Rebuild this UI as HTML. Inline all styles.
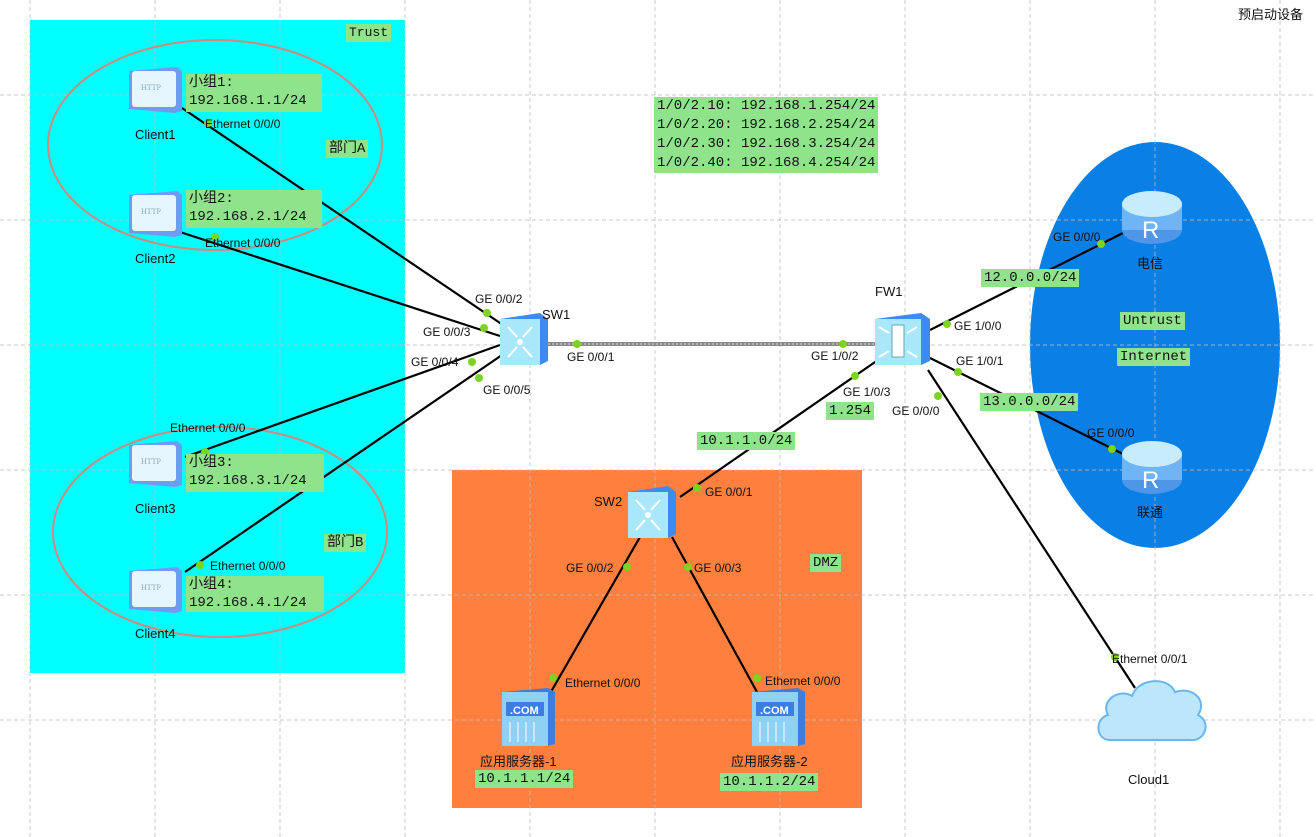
<!DOCTYPE html>
<html><head><meta charset="utf-8"><style>
body{margin:0;width:1316px;height:837px;overflow:hidden;background:#fff;position:relative;font-family:"Liberation Sans","Noto Sans CJK SC",sans-serif}
.a{position:absolute}
.g{position:absolute;background:#8fe38a;font-family:"Liberation Mono","Noto Sans CJK SC",monospace;font-size:14px;line-height:18px;padding:0 3px;color:#111}
.t{position:absolute;font-size:12px;color:#111;white-space:nowrap}
.n{position:absolute;font-size:13px;color:#111;white-space:nowrap}
</style></head><body>
<svg class="a" style="left:0;top:0" width="1316" height="837">
<rect x="30" y="20" width="375" height="653" fill="#00ffff"/>
<rect x="452" y="470" width="410" height="338" fill="#ff7f3f"/>
<ellipse cx="1155" cy="345" rx="125" ry="203" fill="#0a7fe6"/>
<g stroke="#bdbdbd" stroke-opacity="0.8" stroke-dasharray="4,3" stroke-width="1">
<line x1="30" y1="0" x2="30" y2="837"/><line x1="155" y1="0" x2="155" y2="837"/><line x1="280" y1="0" x2="280" y2="837"/><line x1="405" y1="0" x2="405" y2="837"/><line x1="530" y1="0" x2="530" y2="837"/><line x1="655" y1="0" x2="655" y2="837"/><line x1="780" y1="0" x2="780" y2="837"/><line x1="905" y1="0" x2="905" y2="837"/><line x1="1030" y1="0" x2="1030" y2="837"/><line x1="1155" y1="0" x2="1155" y2="837"/><line x1="1280" y1="0" x2="1280" y2="837"/>
<line x1="0" y1="95" x2="1316" y2="95"/><line x1="0" y1="220" x2="1316" y2="220"/><line x1="0" y1="345" x2="1316" y2="345"/><line x1="0" y1="470" x2="1316" y2="470"/><line x1="0" y1="595" x2="1316" y2="595"/><line x1="0" y1="720" x2="1316" y2="720"/>
</g>
<ellipse cx="215" cy="145" rx="167" ry="105" fill="none" stroke="#d08880" stroke-width="2"/>
<ellipse cx="220" cy="532" rx="167" ry="105" fill="none" stroke="#d08880" stroke-width="2"/>
<g stroke="#000" stroke-width="2.2">
<line x1="182" y1="108" x2="503" y2="325"/>
<line x1="180" y1="232" x2="500" y2="336"/>
<line x1="185" y1="457" x2="500" y2="345"/>
<line x1="185" y1="572" x2="502" y2="355"/>
<line x1="878" y1="360" x2="680" y2="497"/>
<line x1="930" y1="330" x2="1125" y2="232"/>
<line x1="930" y1="358" x2="1125" y2="455"/>
<line x1="928" y1="370" x2="1135" y2="688"/>
<line x1="640" y1="537" x2="548" y2="697"/>
<line x1="672" y1="537" x2="757" y2="692"/>
</g>
<line x1="548" y1="344" x2="876" y2="344" stroke="#888" stroke-width="4"/>
<line x1="548" y1="344" x2="876" y2="344" stroke="#ddd" stroke-width="1" stroke-dasharray="2,2"/>
<g fill="#7ed321">
<circle cx="208" cy="123" r="4"/><circle cx="215" cy="237" r="4"/><circle cx="205" cy="452" r="4"/><circle cx="200" cy="565" r="4"/>
<circle cx="487" cy="313" r="4"/><circle cx="484" cy="328" r="4"/><circle cx="472" cy="362" r="4"/><circle cx="479" cy="378" r="4"/>
<circle cx="577" cy="344" r="4"/><circle cx="843" cy="344" r="4"/><circle cx="855" cy="376" r="4"/><circle cx="947" cy="324" r="4"/><circle cx="958" cy="372" r="4"/><circle cx="938" cy="396" r="4"/>
<circle cx="1101" cy="244" r="4"/><circle cx="1112" cy="449" r="4"/><circle cx="697" cy="488" r="4"/><circle cx="627" cy="567" r="4"/><circle cx="688" cy="567" r="4"/><circle cx="553" cy="678" r="4"/><circle cx="757" cy="678" r="4"/><circle cx="1115" cy="657" r="4"/>
</g>
<defs>
<g id="pc"><path d="M2 4 L50 0 L55 4 L55 44 L48 46 L2 42 Z" fill="#6f9cf0"/><rect x="5" y="4" width="44" height="36" rx="3" fill="#e6f6ff"/><text x="14" y="23" font-size="8" fill="#8ab" font-family="Liberation Serif">HTTP</text></g>
<g id="sw"><path d="M0 6 L40 0 L48 6 L48 48 L40 52 L0 52 Z" fill="#3c8cf0"/><rect x="0" y="6" width="40" height="46" fill="#a9e7fb"/><g stroke="#fff" stroke-width="2"><line x1="8" y1="14" x2="17" y2="24"/><line x1="32" y1="14" x2="23" y2="24"/><line x1="8" y1="44" x2="17" y2="34"/><line x1="32" y1="44" x2="23" y2="34"/></g><circle cx="20" cy="29" r="3" fill="#fff"/></g>
<g id="rt"><ellipse cx="30" cy="40" rx="30" ry="14" fill="#4f95e8"/><rect x="0" y="14" width="60" height="26" fill="#6fb5f5"/><ellipse cx="30" cy="14" rx="30" ry="13" fill="#c7ecfd"/><text x="20" y="48" font-size="24" fill="#fff" font-family="Liberation Sans">R</text></g>
<g id="sv"><path d="M0 4 L46 0 L53 4 L53 56 L46 58 L0 58 Z" fill="#3b7ee0"/><rect x="0" y="4" width="46" height="54" fill="#8fd0f5"/><rect x="4" y="14" width="38" height="14" fill="#3b7ee0"/><text x="8" y="26" font-size="11" font-weight="bold" fill="#fff">.COM</text><g stroke="#fff"><line x1="8" y1="34" x2="8" y2="54"/><line x1="16" y1="34" x2="16" y2="54"/><line x1="24" y1="34" x2="24" y2="54"/><line x1="32" y1="34" x2="32" y2="54"/></g></g>
</defs>
<use href="#pc" x="127" y="67"/><use href="#pc" x="127" y="191"/><use href="#pc" x="127" y="441"/><use href="#pc" x="127" y="567"/>
<use href="#sw" x="500" y="313"/><use href="#sw" x="628" y="486"/>
<g transform="translate(875,313)"><path d="M0 6 L46 0 L55 6 L55 48 L46 52 L0 52 Z" fill="#3c8cf0"/><rect x="0" y="6" width="46" height="46" fill="#a9e7fb"/><rect x="17" y="12" width="12" height="32" fill="#fff" stroke="#6aa" stroke-width="1"/><g stroke="#fff" stroke-width="2"><line x1="4" y1="14" x2="14" y2="20"/><line x1="42" y1="14" x2="32" y2="20"/><line x1="4" y1="44" x2="14" y2="38"/><line x1="42" y1="44" x2="32" y2="38"/></g></g>
<use href="#rt" x="1122" y="190"/><use href="#rt" x="1122" y="440"/>
<use href="#sv" x="502" y="688"/><use href="#sv" x="752" y="688"/>
<path d="M1110 740 C1095 740 1095 718 1108 715 C1100 700 1120 688 1132 696 C1138 678 1168 676 1175 692 C1192 686 1208 700 1198 715 C1212 722 1205 742 1190 740 Z" fill="#bce6fc" stroke="#6ab6f0" stroke-width="2"/>
</svg>
<div class="t" style="left:1238px;top:4px;font-size:13px">预启动设备</div>
<div class="g" style="left:346px;top:24px;font-size:13px">Trust</div>
<div class="g" style="left:186px;top:74px;width:130px;height:38px">小组1:<br>192.168.1.1/24</div>
<div class="g" style="left:186px;top:190px;width:130px;height:38px">小组2:<br>192.168.2.1/24</div>
<div class="g" style="left:186px;top:454px;width:132px;height:38px">小组3:<br>192.168.3.1/24</div>
<div class="g" style="left:186px;top:576px;width:132px;height:36px">小组4:<br>192.168.4.1/24</div>
<div class="g" style="left:326px;top:140px">部门A</div>
<div class="g" style="left:324px;top:534px">部门B</div>
<div class="n" style="left:135px;top:127px">Client1</div>
<div class="n" style="left:135px;top:251px">Client2</div>
<div class="n" style="left:135px;top:501px">Client3</div>
<div class="n" style="left:135px;top:626px">Client4</div>
<div class="t" style="left:205px;top:117px">Ethernet 0/0/0</div>
<div class="t" style="left:205px;top:236px">Ethernet 0/0/0</div>
<div class="t" style="left:170px;top:421px">Ethernet 0/0/0</div>
<div class="t" style="left:210px;top:559px">Ethernet 0/0/0</div>
<div class="t" style="left:475px;top:292px">GE 0/0/2</div>
<div class="t" style="left:423px;top:325px">GE 0/0/3</div>
<div class="t" style="left:411px;top:355px">GE 0/0/4</div>
<div class="t" style="left:483px;top:383px">GE 0/0/5</div>
<div class="n" style="left:542px;top:307px">SW1</div>
<div class="t" style="left:567px;top:350px">GE 0/0/1</div>
<div class="t" style="left:811px;top:349px">GE 1/0/2</div>
<div class="n" style="left:875px;top:284px">FW1</div>
<div class="t" style="left:843px;top:385px">GE 1/0/3</div>
<div class="g" style="left:826px;top:402px">1.254</div>
<div class="t" style="left:892px;top:404px">GE 0/0/0</div>
<div class="t" style="left:954px;top:319px">GE 1/0/0</div>
<div class="t" style="left:956px;top:354px">GE 1/0/1</div>
<div class="g" style="left:654px;top:97px;line-height:19px">1/0/2.10: 192.168.1.254/24<br>1/0/2.20: 192.168.2.254/24<br>1/0/2.30: 192.168.3.254/24<br>1/0/2.40: 192.168.4.254/24</div>
<div class="g" style="left:697px;top:432px">10.1.1.0/24</div>
<div class="n" style="left:594px;top:494px">SW2</div>
<div class="t" style="left:705px;top:485px">GE 0/0/1</div>
<div class="t" style="left:566px;top:561px">GE 0/0/2</div>
<div class="t" style="left:694px;top:561px">GE 0/0/3</div>
<div class="g" style="left:810px;top:554px">DMZ</div>
<div class="t" style="left:565px;top:676px">Ethernet 0/0/0</div>
<div class="t" style="left:765px;top:674px">Ethernet 0/0/0</div>
<div class="n" style="left:480px;top:751px">应用服务器-1</div>
<div class="n" style="left:731px;top:751px">应用服务器-2</div>
<div class="g" style="left:475px;top:770px">10.1.1.1/24</div>
<div class="g" style="left:720px;top:773px">10.1.1.2/24</div>
<div class="t" style="left:1053px;top:230px">GE 0/0/0</div>
<div class="n" style="left:1137px;top:253px">电信</div>
<div class="g" style="left:981px;top:269px">12.0.0.0/24</div>
<div class="g" style="left:1120px;top:312px">Untrust</div>
<div class="g" style="left:1117px;top:348px">Internet</div>
<div class="g" style="left:980px;top:393px">13.0.0.0/24</div>
<div class="t" style="left:1087px;top:426px">GE 0/0/0</div>
<div class="n" style="left:1137px;top:502px">联通</div>
<div class="t" style="left:1112px;top:652px">Ethernet 0/0/1</div>
<div class="n" style="left:1128px;top:772px">Cloud1</div>
</body></html>
